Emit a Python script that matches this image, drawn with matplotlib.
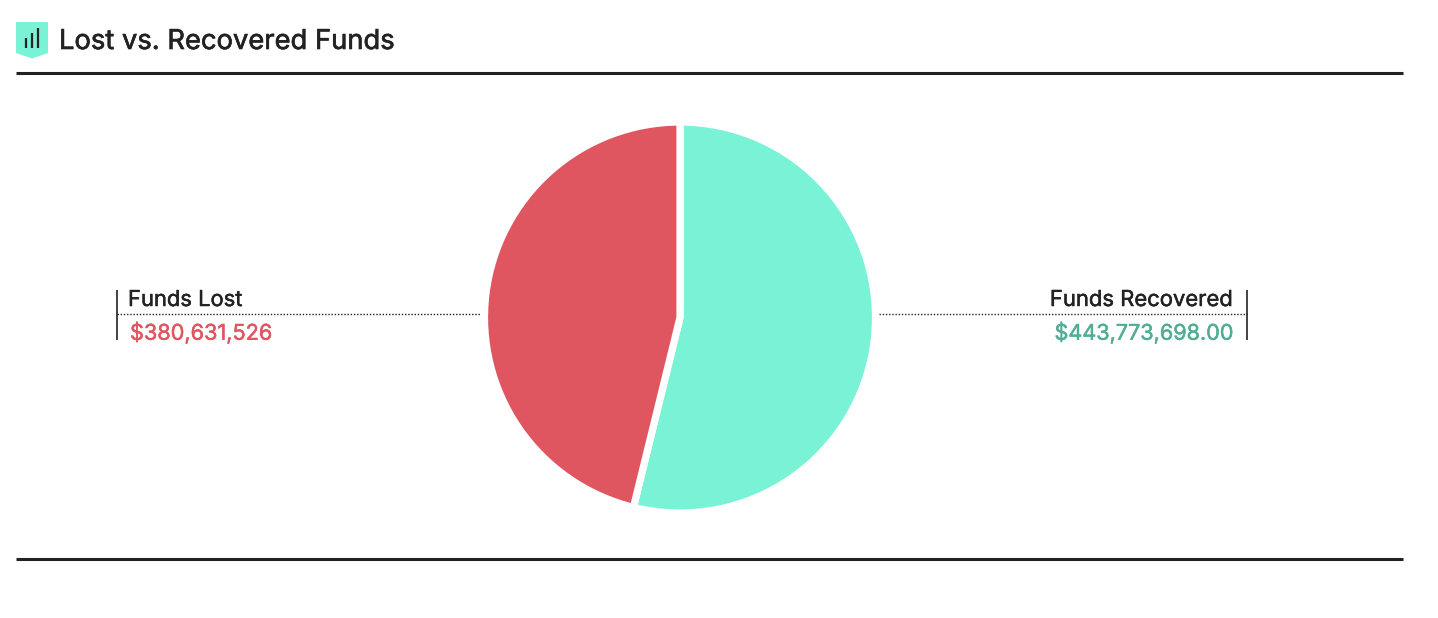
import matplotlib
matplotlib.use('Agg')
import matplotlib.pyplot as plt
import matplotlib.patheffects as pe
from matplotlib.patches import Polygon

W, H = 1438, 618

labels = ['Funds Recovered', 'Funds Lost']
values = [443773698.00, 380631526]
value_labels = ['$443,773,698.00', '$380,631,526']
title = 'Lost vs. Recovered Funds'

DARK = '#222222'
TEAL = '#7af2d6'
RED = '#df5661'
TEAL_TEXT = '#4fae95'

plt.rcParams['font.family'] = ['Inter', 'DejaVu Sans']

fig = plt.figure(figsize=(W / 100, H / 100), dpi=100, facecolor='white')

# overlay in pixel coordinates, y going down like the screenshot
bg = fig.add_axes([0, 0, 1, 1])
bg.set_xlim(0, W)
bg.set_ylim(H, 0)
bg.axis('off')


def label(x, y, s, size, color, ha='left', bold=0.35):
    # only the regular cut is picked up, so thicken it a bit
    bg.text(x, y, s, fontsize=size, color=color, va='center', ha=ha,
            path_effects=[pe.withStroke(linewidth=bold, foreground=color)])


# header icon
bg.add_patch(Polygon([(16, 22), (48, 22), (48, 53), (32, 58.5), (16, 53)], closed=True, fc=TEAL, ec='none'))
for x, top in [(26, 38), (32, 33), (37.7, 28)]:
    bg.plot([x, x], [top, 48], color=DARK, lw=1.6, solid_capstyle='butt')

label(59, 42, title, 19.7, DARK, bold=0.45)

# rules
bg.plot([16, 1403], [73, 73], color=DARK, lw=2.2, solid_capstyle='butt')
bg.plot([16, 1403], [559, 559], color=DARK, lw=2.2, solid_capstyle='butt')

# left callout
bg.plot([117, 117], [290, 340], color=DARK, lw=1.2, solid_capstyle='butt')
bg.plot([117, 481], [314, 314], color=DARK, lw=1.0, ls=(0, (1, 1.3)))
label(128, 300, labels[1], 15.8, DARK)
label(130, 332.5, value_labels[1], 15.6, RED)

# right callout
bg.plot([1247, 1247], [290, 340], color=DARK, lw=1.2, solid_capstyle='butt')
bg.plot([879, 1247], [314, 314], color=DARK, lw=1.0, ls=(0, (1, 1.3)))
label(1233, 300, labels[0], 15.85, DARK, ha='right')
label(1233, 332.5, value_labels[0], 15.55, TEAL_TEXT, ha='right')

# pie, white wedge edge makes the gap
cx, cy, r = 680, 317.5, 195.5
ax = fig.add_axes([(cx - r) / W, 1 - (cy + r) / H, 2 * r / W, 2 * r / H])
ax.pie(values, colors=[TEAL, RED], startangle=90, counterclock=False, radius=1,
       wedgeprops={'edgecolor': 'white', 'linewidth': 5.2})
ax.set_xlim(-1, 1)
ax.set_ylim(-1, 1)

fig.savefig('out.png', dpi=100, facecolor='white')
